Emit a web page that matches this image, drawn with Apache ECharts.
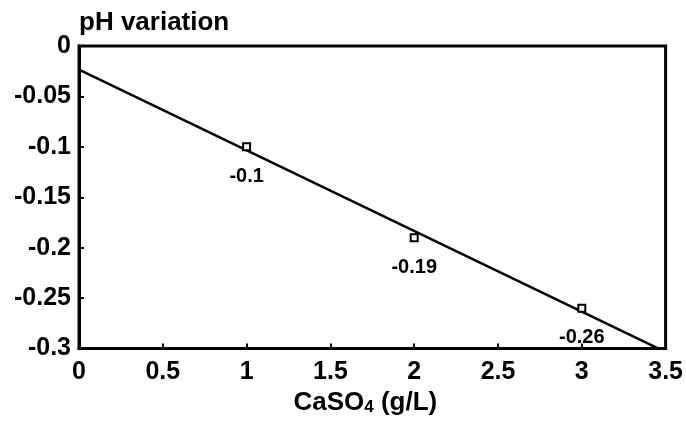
<!DOCTYPE html>
<html>
<head>
<meta charset="utf-8">
<script src="https://cdn.jsdelivr.net/npm/echarts@6/dist/echarts.min.js"></script>
<style>html,body{margin:0;padding:0;background:#fff}#c{width:686px;height:421px}</style>
</head>
<body>
<div id="c"></div>
<script>
// Data
var concentration = [1, 2, 3];
var phVariation = [-0.1, -0.19, -0.26];
var trendX = [0, 3.458];
var trendY = [-0.0233, -0.3];
var xTicks = [0, 0.5, 1, 1.5, 2, 2.5, 3, 3.5];
var yTicks = [0, -0.05, -0.1, -0.15, -0.2, -0.25, -0.3];

var FONT = '"Liberation Sans", Arial, Helvetica, sans-serif';
var chart = echarts.init(document.getElementById('c'));
chart.setOption({
  animation: false,
  backgroundColor: '#fff',
  title: {
    text: 'pH variation', left: 74, top: 5,
    textStyle: {fontFamily: FONT, fontWeight: 'bold', fontSize: 26, color: '#000'}
  },
  grid: {left: 79, right: 18, top: 46, bottom: 69, show: true, borderColor: '#000', borderWidth: 3, backgroundColor: 'transparent'},
  xAxis: {
    type: 'value', min: xTicks[0], max: xTicks[xTicks.length - 1], interval: 0.5,
    axisLine: {show: true, onZero: false, lineStyle: {color: '#000', width: 3}},
    axisTick: {show: true, inside: true, length: 5, lineStyle: {color: '#000', width: 2}},
    splitLine: {show: false},
    axisLabel: {fontFamily: FONT, fontWeight: 'bold', fontSize: 25, color: '#000', margin: 11},
    name: '{a|CaSO}{s|4}{a| (g/L)}', nameLocation: 'middle', nameGap: 32,
    nameTextStyle: {
      padding: [0, 14, 0, 0],
      rich: {
        a: {fontFamily: FONT, fontWeight: 'bold', fontSize: 26, color: '#000'},
        s: {fontFamily: FONT, fontWeight: 'bold', fontSize: 17, color: '#000', padding: [10, 0, 0, 0]}
      }
    }
  },
  yAxis: {
    type: 'value', min: yTicks[yTicks.length - 1], max: yTicks[0], interval: 0.05,
    axisLine: {show: true, onZero: false, lineStyle: {color: '#000', width: 3}},
    axisTick: {show: true, inside: true, length: 5, lineStyle: {color: '#000', width: 2}},
    splitLine: {show: false},
    axisLabel: {fontFamily: FONT, fontWeight: 'bold', fontSize: 25, color: '#000', margin: 8,
      formatter: function (v) { return String(Math.round(v * 100) / 100); }}
  },
  series: [
    {
      type: 'line', data: trendX.map(function (x, i) { return [x, trendY[i]]; }),
      symbol: 'none', lineStyle: {color: '#000', width: 2.5}, silent: true, z: 2
    },
    {
      type: 'scatter', data: concentration.map(function (x, i) { return [x, phVariation[i]]; }),
      symbol: 'rect', symbolSize: 7,
      itemStyle: {color: '#fff', borderColor: '#000', borderWidth: 2, opacity: 1},
      label: {show: true, position: 'bottom', distance: 15, fontFamily: FONT, fontWeight: 'bold', fontSize: 20, color: '#000', textBorderWidth: 0, opacity: 1,
        formatter: function (p) { return String(p.value[1]); }},
      z: 3
    }
  ]
});
</script>
</body>
</html>
